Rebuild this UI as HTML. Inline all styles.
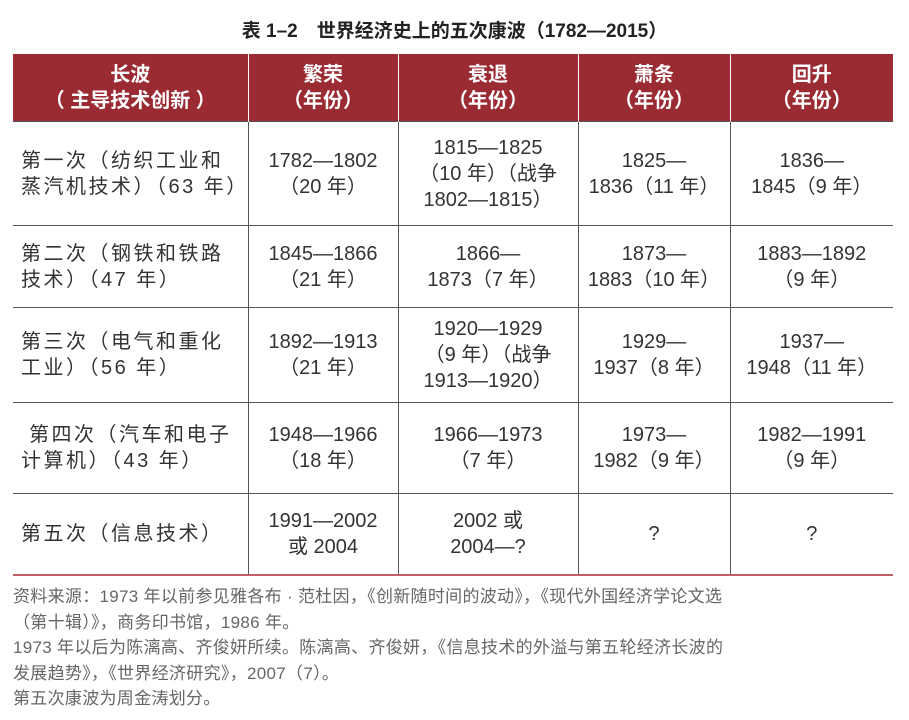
<!DOCTYPE html>
<html><head><meta charset="utf-8"><style>
body{margin:0;width:909px;height:720px;background:#fff;font-family:"Liberation Sans","Noto Sans CJK SC",sans-serif;position:relative;overflow:hidden}
.title{position:absolute;top:16px;left:0;width:909px;text-align:center;font-size:19px;font-weight:bold;color:#222}
table{position:absolute;left:13px;top:54px;width:880px;border-collapse:collapse;table-layout:fixed}
th{background:#9b2b33;color:#fff;font-size:20px;font-weight:bold;line-height:26px;height:67px;border-left:1.5px solid #fff;padding:0}
th:first-child{border-left:none}
td{font-size:20px;line-height:26px;color:#333;text-align:center;border-top:1.5px solid #555;border-left:1.5px solid #555;padding:0;white-space:nowrap}
td:first-child{border-left:none;text-align:left;padding-left:8px;letter-spacing:2.5px}
tr:last-child td{border-bottom:2px solid #c0606a}
.note{position:absolute;left:13px;top:584px;font-size:17px;line-height:25.5px;color:#666;width:895px;white-space:nowrap;letter-spacing:0.3px}
</style></head><body>
<div class="title">表 1–2　世界经济史上的五次康波（1782—2015）</div>
<table>
<colgroup><col style="width:235px"><col style="width:150px"><col style="width:180px"><col style="width:152px"><col style="width:163px"></colgroup>
<tr><th>长波<br>（ 主导技术创新 ）</th><th>繁荣<br>（年份）</th><th>衰退<br>（年份）</th><th>萧条<br>（年份）</th><th>回升<br>（年份）</th></tr>
<tr style="height:104px"><td>第一次（纺织工业和<br>蒸汽机技术）（63 年）</td><td>1782—1802<br>（20 年）</td><td>1815—1825<br>（10 年）（战争<br>1802—1815）</td><td>1825—<br>1836（11 年）</td><td>1836—<br>1845（9 年）</td></tr>
<tr style="height:82px"><td>第二次（钢铁和铁路<br>技术）（47 年）</td><td>1845—1866<br>（21 年）</td><td>1866—<br>1873（7 年）</td><td>1873—<br>1883（10 年）</td><td>1883—1892<br>（9 年）</td></tr>
<tr style="height:95px"><td>第三次（电气和重化<br>工业）（56 年）</td><td>1892—1913<br>（21 年）</td><td>1920—1929<br>（9 年）（战争<br>1913—1920）</td><td>1929—<br>1937（8 年）</td><td>1937—<br>1948（11 年）</td></tr>
<tr style="height:91px"><td>&nbsp;第四次（汽车和电子<br>计算机）（43 年）</td><td>1948—1966<br>（18 年）</td><td>1966—1973<br>（7 年）</td><td>1973—<br>1982（9 年）</td><td>1982—1991<br>（9 年）</td></tr>
<tr style="height:81px"><td>第五次（信息技术）</td><td>1991—2002<br>或 2004</td><td>2002 或<br>2004—?</td><td>?</td><td>?</td></tr>
</table>
<div class="note">资料来源：1973 年以前参见雅各布 · 范杜因，《创新随时间的波动》，《现代外国经济学论文选<br>（第十辑）》，商务印书馆，1986 年。<br>1973 年以后为陈漓高、齐俊妍所续。陈漓高、齐俊妍，《信息技术的外溢与第五轮经济长波的<br>发展趋势》，《世界经济研究》，2007（7）。<br>第五次康波为周金涛划分。</div>
</body></html>
